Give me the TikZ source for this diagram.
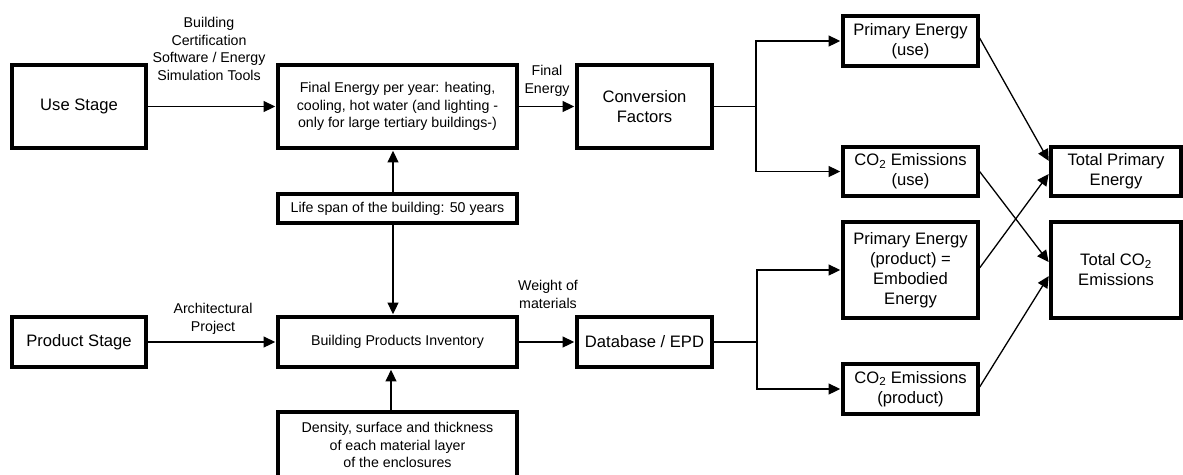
\documentclass[tikz,border=0pt]{standalone}
\usepackage{fontspec}
\setmainfont{Liberation Sans}
\usetikzlibrary{arrows.meta}
\begin{document}
\begin{tikzpicture}[x=1pt,y=-1pt,
  box/.style={draw, line width=3.2pt, inner sep=0pt, align=center},
  big/.style={font=\fontsize{16.6}{20}\selectfont},
  small/.style={font=\fontsize{14.2}{17.5}\selectfont},
  lbl/.style={align=center, inner sep=0pt, font=\fontsize{14.2}{17.5}\selectfont},
  conn/.style={line width=1.3pt, shorten >=1.3pt, -{Triangle[length=11.5pt,width=11pt]}},
  plainline/.style={line width=1.3pt}
]
\useasboundingbox (0,0) rectangle (1183,474);

% left column
\node[box,big,minimum width=134pt,minimum height=83pt] (use) at (79,106.5) {Use Stage};
\node[box,big,minimum width=134pt,minimum height=50pt] (prod) at (79,342) {Product Stage};

% middle column
\node[box,small,minimum width=239pt,minimum height=83pt] (final) at (397.5,106.5)
  {Final Energy per year: heating,\\cooling, hot water (and lighting -\\only for large tertiary buildings-)};
\node[box,small,minimum width=239pt,minimum height=29pt] (life) at (397.5,208.5)
  {Life span of the building: 50 years};
\node[box,small,minimum width=239pt,minimum height=50pt] (bpi) at (397.5,342)
  {Building Products Inventory};
\node[box,small,minimum width=239pt,minimum height=66pt] (dens) at (397.5,445)
  {Density, surface and thickness\\of each material layer\\of the enclosures};

% third column
\node[box,big,minimum width=135pt,minimum height=83pt] (conv) at (644.5,106.5) {Conversion\\Factors};
\node[box,big,minimum width=135pt,minimum height=50pt] (db) at (644.5,342) {Database / EPD};

% fourth column
\node[box,big,minimum width=135pt,minimum height=50pt] (peuse) at (910.5,41) {Primary Energy\\(use)};
\node[box,big,minimum width=135pt,minimum height=49pt] (co2use) at (910.5,171.5) {CO\textsubscript{2} Emissions\\(use)};
\node[box,big,minimum width=135pt,minimum height=96pt] (peprod) at (910.5,270) {Primary Energy\\(product) =\\Embodied\\Energy};
\node[box,big,minimum width=135pt,minimum height=50pt] (co2prod) at (910.5,389) {CO\textsubscript{2} Emissions\\(product)};

% totals
\node[box,big,minimum width=130pt,minimum height=49pt] (totpe) at (1116,171.5) {Total Primary\\Energy};
\node[box,big,minimum width=130pt,minimum height=96pt] (totco2) at (1116,270) {Total CO\textsubscript{2}\\Emissions};

% labels
\node[lbl] (lcert) at (209,49) {Building\\Certification\\Software / Energy\\Simulation Tools};
\node[lbl] (lfinal) at (547,81) {Final\\Energy};
\node[lbl] (larch) at (213,319) {Architectural\\Project};
\node[lbl] (lweight) at (548,294.5) {Weight of\\materials};

% connectors
\draw[conn] (use) -- (final);
\draw[conn] (final) -- (conv);
\coordinate (b1) at (756,106.5);
\draw[plainline] (conv.east) -- (b1);
\draw[conn] (b1) |- (peuse.west);
\draw[conn] (b1) |- (co2use.west);

\draw[conn] ([xshift=-4.5pt]life.north) -- ([xshift=-4.5pt]final.south);
\draw[conn] ([xshift=-4.5pt]life.south) -- ([xshift=-4.5pt]bpi.north);
\draw[conn] ([xshift=-6.5pt]dens.north) -- ([xshift=-6.5pt]bpi.south);

\draw[conn] (prod) -- (bpi);
\draw[conn] (bpi) -- (db);
\coordinate (b2) at (757,342);
\draw[plainline] (db.east) -- (b2);
\draw[conn] (b2) |- (peprod.west);
\draw[conn] (b2) |- (co2prod.west);

\draw[conn] ([yshift=3pt]peuse.east) -- ([yshift=9.5pt]totpe.west);
\draw[conn] ([yshift=2pt]peprod.east) -- ([yshift=-1.5pt]totpe.west);
\draw[conn] (co2use.east) -- ([yshift=7pt]totco2.west);
\draw[conn] ([yshift=2pt]co2prod.east) -- ([yshift=-5pt]totco2.west);
\end{tikzpicture}
\end{document}
